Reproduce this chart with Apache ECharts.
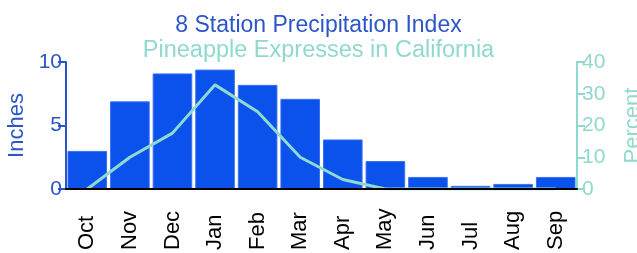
<!DOCTYPE html>
<html><head><meta charset="utf-8">
<script src="https://cdn.jsdelivr.net/npm/echarts@6/dist/echarts.min.js"></script>
<style>html,body{margin:0;padding:0;background:#fff}#c{width:637px;height:253px}</style>
</head><body><div id="c"></div>
<script>
const months = ['Oct','Nov','Dec','Jan','Feb','Mar','Apr','May','Jun','Jul','Aug','Sep'];
const inches = [3.0, 6.9, 9.1, 9.4, 8.2, 7.1, 3.9, 2.2, 0.95, 0.25, 0.4, 0.95];
const percent = [0, 10, 17.6, 32.8, 24.3, 10, 3, 0, 0, 0, 0, 0];
const leftTicks = {min:0, max:10, interval:5};
const rightTicks = {min:0, max:40, interval:10};

const font = 'Liberation Sans, Arial, Helvetica, sans-serif';
const blue = '#2b55c8', teal = '#8fd9cf', bar = '#0b52ec';
const chart = echarts.init(document.getElementById('c'));
chart.setOption({
  animation:false,
  title:[
    {text:'8 Station Precipitation Index', left:'center', top:9, textStyle:{color:blue, fontSize:23, fontWeight:'normal', fontFamily:font}},
    {text:'Pineapple Expresses in California', left:'center', top:34, textStyle:{color:teal, fontSize:23.5, fontWeight:'normal', fontFamily:font}}
  ],
  grid:{left:66, right:60, top:62, bottom:64, containLabel:false, outerBoundsMode:'none'},
  xAxis:{type:'category', data:months, z:5,
    axisLine:{lineStyle:{color:'#000', width:2}},
    axisTick:{alignWithLabel:true, length:8, lineStyle:{color:'#000', width:2}},
    axisLabel:{rotate:90, align:'left', color:'#000', fontSize:22, fontFamily:font, margin:61}},
  yAxis:[
    {type:'value', min:leftTicks.min, max:leftTicks.max, interval:leftTicks.interval, name:'Inches', nameLocation:'middle', nameGap:37, nameRotate:90,
     nameTextStyle:{color:blue, fontSize:22, fontFamily:font},
     axisLine:{show:true, lineStyle:{color:blue, width:2}}, axisTick:{show:true, length:8, lineStyle:{color:blue, width:2}},
     axisLabel:{color:blue, fontSize:21, fontFamily:font, margin:4}, splitLine:{show:false}},
    {type:'value', min:rightTicks.min, max:rightTicks.max, interval:rightTicks.interval, name:'Percent', nameLocation:'middle', nameGap:45, nameRotate:90,
     nameTextStyle:{color:teal, fontSize:22, fontFamily:font},
     axisLine:{show:true, lineStyle:{color:teal, width:2}}, axisTick:{show:true, length:8, lineStyle:{color:teal, width:2}},
     axisLabel:{color:teal, fontSize:21, fontFamily:font, margin:5}, splitLine:{show:false}}
  ],
  series:[
    {type:'bar', data:inches, yAxisIndex:0, barCategoryGap:'7%', itemStyle:{color:bar, borderColor:'#3a6ff0', borderWidth:1}},
    {type:'line', data:percent, yAxisIndex:1, symbol:'none', lineStyle:{color:teal, width:3}, itemStyle:{color:teal}, z:3}
  ]
});
</script></body></html>
